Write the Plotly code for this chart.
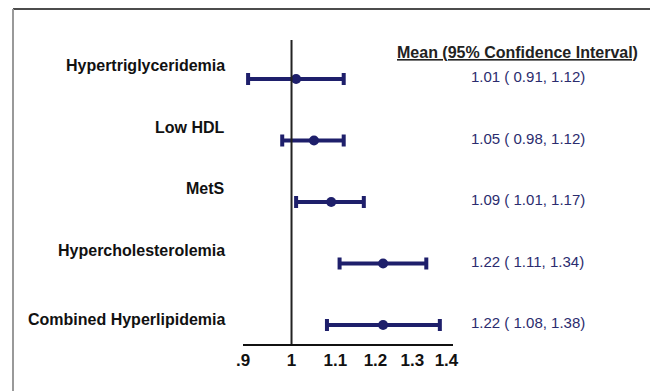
import numpy as np
import plotly.graph_objects as go

categories = ["Hypertriglyceridemia", "Low HDL", "MetS", "Hypercholesterolemia", "Combined Hyperlipidemia"]
means = [1.01, 1.05, 1.09, 1.22, 1.22]
lowers = [0.91, 0.98, 1.01, 1.11, 1.08]
uppers = [1.12, 1.12, 1.17, 1.34, 1.38]
tick_vals = [0.9, 1.0, 1.1, 1.2, 1.3, 1.4]
tick_text = [".9", "1", "1.1", "1.2", "1.3", "1.4"]
header = "Mean (95% Confidence Interval)"

OFF = 8  # page body margin
W, H = 658 - OFF, 391 - OFF
L, R, T, B = 243 - OFF, 658 - 453, 40 - OFF, 391 - 344
pw, ph = W - L - R, H - T - B

def px_x(px):
    return (px - OFF - L) / pw

def px_y(py):
    return (H - B - (py - OFF)) / ph

navy = "#1e1f6b"

fig = go.Figure()
fig.add_trace(go.Scatter(
    x=means, y=categories, mode="markers",
    marker=dict(color=navy, size=10),
    error_x=dict(type="data", symmetric=False,
                 array=[u - m for u, m in zip(uppers, means)],
                 arrayminus=[m - l for m, l in zip(means, lowers)],
                 color=navy, thickness=4, width=6),
    showlegend=False, cliponaxis=False,
))

# vertical reference line at 1
fig.add_shape(type="line", xref="x", yref="paper", x0=1.0, x1=1.0,
              y0=0, y1=1, line=dict(color="#222222", width=2))

annotations = []
for i, (c, m, lo, up) in enumerate(zip(categories, means, lowers, uppers)):
    shift = 13 if i < len(categories) - 1 else 5
    annotations.append(dict(xref="paper", yref="y", x=px_x(227), y=c, xanchor="right",
                             yanchor="middle", yshift=shift, showarrow=False,
                             text=c, font=dict(family="Liberation Sans, Arial", size=16,
                                               color="#111111", weight="bold")))
    annotations.append(dict(xref="paper", yref="y", x=px_x(469), y=c, xanchor="left",
                             yanchor="middle", yshift=2, showarrow=False,
                             text=f"{m:.2f} ( {lo:.2f}, {up:.2f})",
                             font=dict(family="Liberation Sans, Arial", size=15, color="#2b2c6e")))
annotations.append(dict(xref="paper", yref="paper", x=px_x(517), y=px_y(52), xanchor="center",
                         yanchor="middle", showarrow=False, text=f"<u>{header}</u>",
                         font=dict(family="Liberation Sans, Arial", size=16,
                                   color="#222222", weight="bold")))

# frame
frame_shapes = [
    dict(type="line", xref="paper", yref="paper", x0=px_x(13), x1=px_x(651), y0=px_y(9), y1=px_y(9),
         line=dict(color="#111111", width=1.5)),
    dict(type="line", xref="paper", yref="paper", x0=px_x(13), x1=px_x(13), y0=px_y(9), y1=px_y(400),
         line=dict(color="#999999", width=2)),
    dict(type="line", xref="paper", yref="paper", x0=px_x(651), x1=px_x(651), y0=px_y(9), y1=px_y(400),
         line=dict(color="#333333", width=1.5)),
]
for s in frame_shapes:
    fig.add_shape(**s)

n = len(categories)
fig.update_layout(
    width=W, height=H,
    margin=dict(l=L, r=R, t=T, b=B, pad=0),
    paper_bgcolor="white", plot_bgcolor="white",
    annotations=annotations,
    xaxis=dict(type="log", range=[np.log10(0.9), np.log10(1.42)],
               tickvals=tick_vals, ticktext=tick_text,
               showgrid=False, zeroline=False, showline=True, linecolor="#111111", linewidth=2,
               ticks="", ticklabelstandoff=0,
               tickfont=dict(family="Liberation Sans, Arial", size=17, color="#111111", weight="bold")),
    yaxis=dict(type="category", categoryorder="array", categoryarray=categories,
               range=[n - 1 + 0.31, -0.634], showticklabels=False, showgrid=False,
               zeroline=False, showline=False, ticks=""),
)

fig.write_html("out.html")
